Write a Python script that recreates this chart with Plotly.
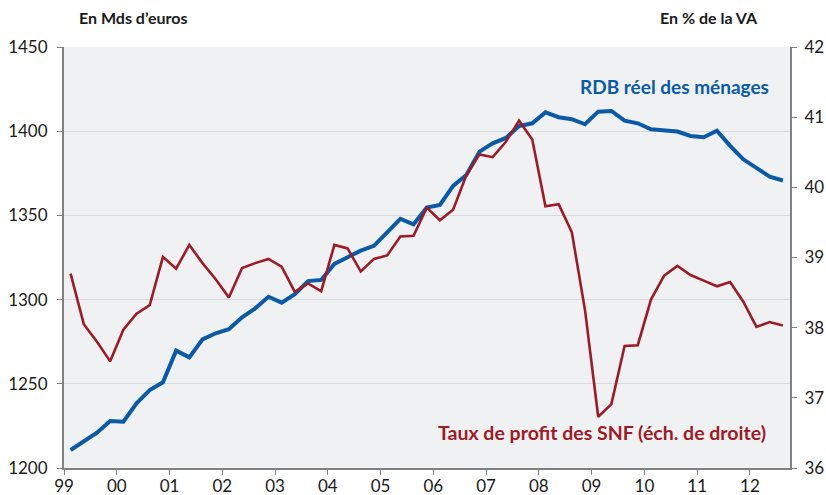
import plotly.graph_objects as go

start_year = 1999
n_quarters = 55  # 1999Q1 .. 2012Q3

rdb_reel = [1210.7, 1215.6, 1221.0, 1227.9, 1227.5, 1238.4, 1246.3, 1250.9, 1269.7, 1265.7,
            1276.4, 1280.0, 1282.4, 1289.5, 1294.8, 1301.7, 1298.2, 1303.2, 1311.0, 1311.7,
            1321.2, 1325.1, 1329.1, 1331.9, 1339.5, 1347.9, 1344.7, 1354.6, 1356.2, 1367.5,
            1374.0, 1387.9, 1392.8, 1396.0, 1403.1, 1404.7, 1411.2, 1408.3, 1407.1, 1404.1,
            1411.6, 1412.0, 1406.3, 1404.7, 1401.1, 1400.2, 1399.8, 1397.2, 1396.4, 1400.3,
            1391.3, 1383.3, 1378.4, 1373.0, 1370.7]

taux_profit = [38.77, 38.05, 37.80, 37.52, 37.97, 38.20, 38.32, 39.01, 38.84, 39.18,
               38.92, 38.69, 38.43, 38.85, 38.92, 38.98, 38.87, 38.51, 38.63, 38.52,
               39.18, 39.13, 38.80, 38.98, 39.03, 39.30, 39.31, 39.71, 39.53, 39.68,
               40.17, 40.47, 40.43, 40.65, 40.95, 40.68, 39.73, 39.76, 39.36, 38.25,
               36.73, 36.91, 37.74, 37.75, 38.40, 38.74, 38.88, 38.75, 38.67, 38.59,
               38.65, 38.37, 38.01, 38.08, 38.03]

tick_years = list(range(1999, 2013))
tick_labels = ["99", "00", "01", "02", "03", "04", "05", "06", "07", "08", "09", "10", "11", "12"]

x = [start_year + (i + 0.5) / 4 for i in range(n_quarters)]

BLUE = "#0a5aa8"
RED = "#9e1b25"
AXIS = "#808080"
FONT = "Lato"

fig = go.Figure()
fig.add_trace(go.Scatter(x=x, y=rdb_reel, mode="lines", name="RDB réel des ménages",
                         line=dict(color=BLUE, width=4), yaxis="y"))
fig.add_trace(go.Scatter(x=x, y=taux_profit, mode="lines", name="Taux de profit des SNF",
                         line=dict(color=RED, width=2.6), yaxis="y2"))

fig.update_layout(
    width=826, height=495,
    margin=dict(l=64, r=36, t=47, b=27, autoexpand=False),
    paper_bgcolor="white",
    plot_bgcolor="#f0f1f3",
    showlegend=False,
    font=dict(family=FONT, size=17, color="#1a1a1a"),
    xaxis=dict(range=[1999, 2012.76], tickmode="array", tickvals=tick_years, ticktext=tick_labels,
               showline=True, linecolor=AXIS, linewidth=2, ticks="outside", ticklen=5,
               tickcolor=AXIS, tickwidth=1, showgrid=False, zeroline=False, automargin=False,
               ticklabelstandoff=-3, tickfont=dict(family=FONT, size=17)),
    yaxis=dict(range=[1200, 1450], dtick=50, showline=True, linecolor=AXIS, linewidth=2,
               ticks="outside", ticklen=5, tickcolor=AXIS, showgrid=True, automargin=False,
               gridcolor="#d8d9db", gridwidth=1, zeroline=False, ticklabelstandoff=6,
               tickfont=dict(family=FONT, size=17)),
    yaxis2=dict(range=[36, 42], dtick=1, overlaying="y", side="right", showline=True,
                linecolor=AXIS, linewidth=2, ticks="outside", ticklen=5, tickcolor=AXIS,
                showgrid=False, zeroline=False, ticklabelstandoff=4, automargin=False,
                tickfont=dict(family=FONT, size=17)),
    annotations=[
        dict(text="<b>En Mds d’euros</b>", xref="paper", yref="paper", x=13/726, y=1,
             xanchor="left", yanchor="middle", yshift=30, showarrow=False,
             font=dict(family=FONT, size=16, color="#1a1a1a")),
        dict(text="<b>En % de la VA</b>", xref="paper", yref="paper", x=1, y=1,
             xanchor="right", yanchor="middle", xshift=-30, yshift=30, showarrow=False,
             font=dict(family=FONT, size=16, color="#1a1a1a")),
        dict(text="<b>RDB réel des ménages</b>", xref="paper", yref="paper", x=1, y=0.905,
             xanchor="right", yanchor="middle", xshift=-19, showarrow=False,
             font=dict(family=FONT, size=19, color=BLUE)),
        dict(text="<b>Taux de profit des SNF (éch. de droite)</b>", xref="paper", yref="paper",
             x=1, y=0.085, xanchor="right", yanchor="middle", xshift=-22, showarrow=False,
             font=dict(family=FONT, size=19.5, color=RED)),
    ],
)

fig.write_html("out.html", config={"displayModeBar": False},
               post_script="document.body.style.margin='0px';")
